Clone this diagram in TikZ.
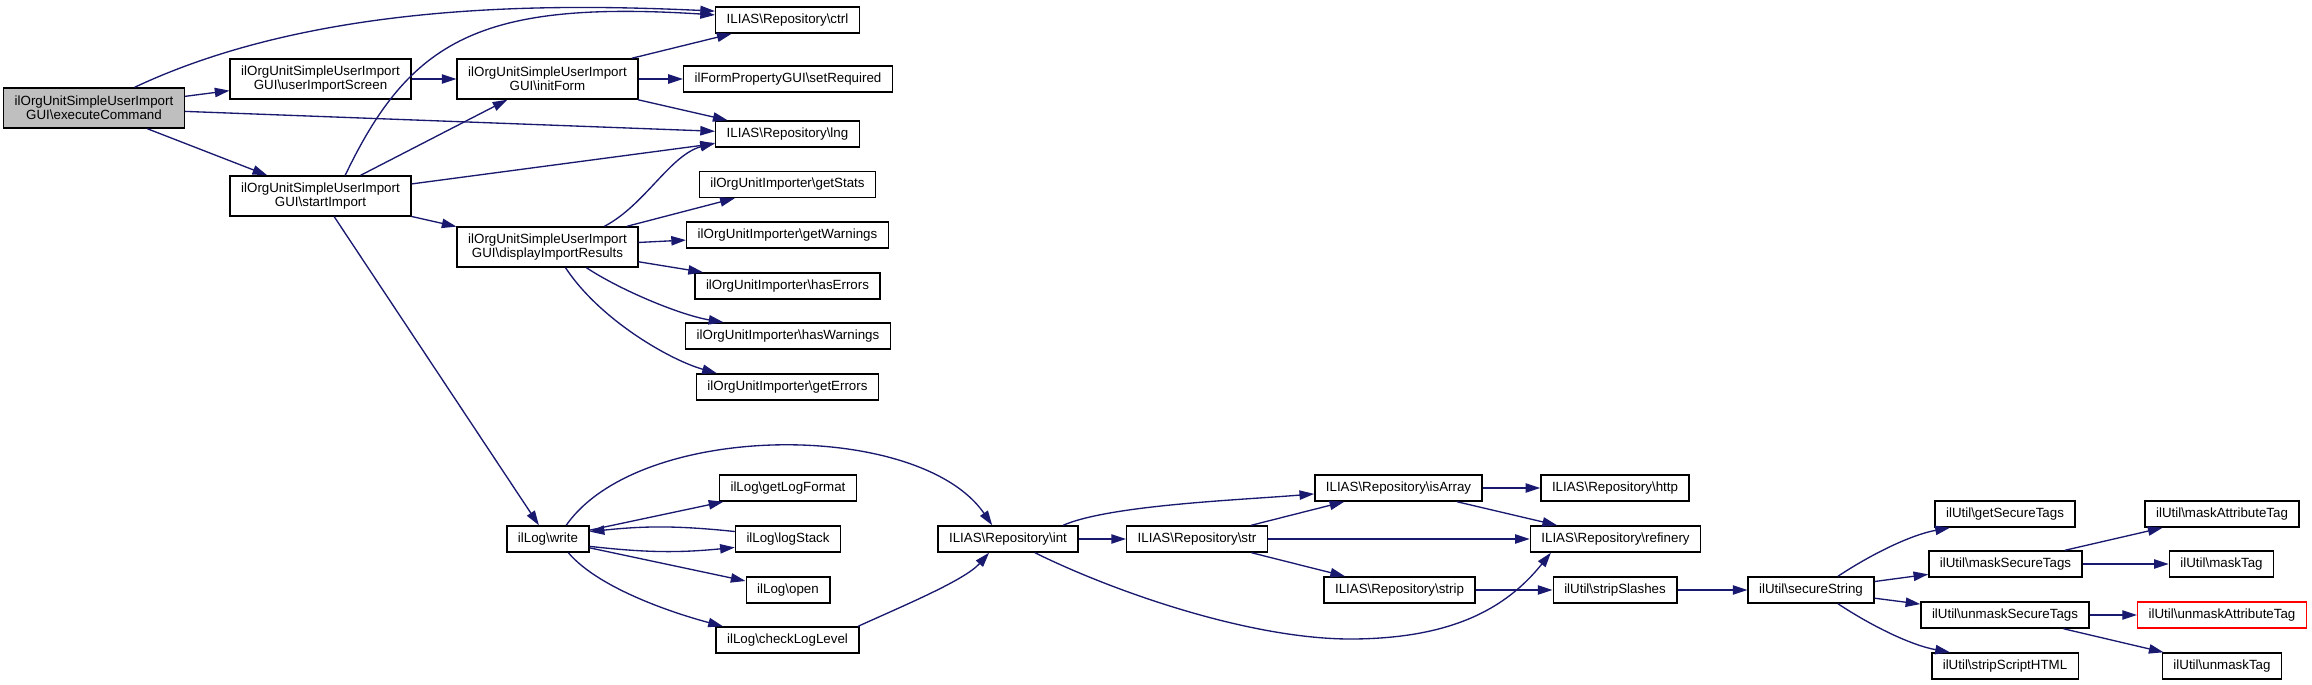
\documentclass[tikz,border=0pt]{standalone}
\usepackage{fontspec}
\setmainfont{Liberation Sans}
\usepackage{xcolor}
\usepackage{tikz}
\usetikzlibrary{arrows.meta}
\definecolor{edgeblue}{RGB}{25,25,112}
\newcommand{\bsl}{\textbackslash}

\begin{document}
\begin{tikzpicture}[x=0.75pt, y=0.75pt,
  fn/.style={draw=black, line width=1.1pt, fill=white, font=\fontsize{10}{10.7}\selectfont,
    inner xsep=8.25pt, inner ysep=1pt, minimum height=19.5pt},
  fn2/.style={fn, align=center, minimum height=30pt},
  call/.style={edgeblue, line width=1pt, -{Triangle[length=11pt,width=7pt]}}]
  \fill[white] (0,0) rectangle (2312,-685);
  \useasboundingbox (0,0) rectangle (2312,-685);
  % GUI methods
  \node[fn2, fill=black!25] (exec) at (94,-108) {ilOrgUnitSimpleUserImport\\GUI\bsl executeCommand};
  \node[fn2] (uis) at (320.5,-79) {ilOrgUnitSimpleUserImport\\GUI\bsl userImportScreen};
  \node[fn2] (start) at (320.5,-196) {ilOrgUnitSimpleUserImport\\GUI\bsl startImport};
  \node[fn2] (form) at (547.5,-79) {ilOrgUnitSimpleUserImport\\GUI\bsl initForm};
  \node[fn2] (results) at (547.5,-247) {ilOrgUnitSimpleUserImport\\GUI\bsl displayImportResults};
  % Third column
  \node[fn] (ctrl) at (787.5,-20) {ILIAS\bsl Repository\bsl ctrl};
  \node[fn] (setreq) at (788,-79) {ilFormPropertyGUI\bsl setRequired};
  \node[fn] (lng) at (787.5,-134) {ILIAS\bsl Repository\bsl lng};
  \node[fn] (stats) at (787.5,-184.5) {ilOrgUnitImporter\bsl getStats};
  \node[fn] (getwarn) at (787.5,-235) {ilOrgUnitImporter\bsl getWarnings};
  \node[fn] (haserr) at (787.5,-286) {ilOrgUnitImporter\bsl hasErrors};
  \node[fn] (haswarn) at (788,-336) {ilOrgUnitImporter\bsl hasWarnings};
  \node[fn] (geterr) at (787.5,-387) {ilOrgUnitImporter\bsl getErrors};
  % Logger
  \node[fn] (write) at (548,-539) {ilLog\bsl write};
  \node[fn] (format) at (788,-488) {ilLog\bsl getLogFormat};
  \node[fn] (stack) at (788,-539) {ilLog\bsl logStack};
  \node[fn] (open) at (788,-590) {ilLog\bsl open};
  \node[fn] (level) at (787.5,-640) {ilLog\bsl checkLogLevel};
  % Repository
  \node[fn] (int) at (1008,-539) {ILIAS\bsl Repository\bsl int};
  \node[fn] (str) at (1197,-539) {ILIAS\bsl Repository\bsl str};
  \node[fn] (isarray) at (1398.5,-488) {ILIAS\bsl Repository\bsl isArray};
  \node[fn] (strip) at (1399.5,-590) {ILIAS\bsl Repository\bsl strip};
  \node[fn] (http) at (1615,-488) {ILIAS\bsl Repository\bsl http};
  \node[fn] (refinery) at (1615.5,-539) {ILIAS\bsl Repository\bsl refinery};
  % ilUtil
  \node[fn] (slashes) at (1615,-590) {ilUtil\bsl stripSlashes};
  \node[fn] (secure) at (1811,-590) {ilUtil\bsl secureString};
  \node[fn] (gettags) at (2005,-514) {ilUtil\bsl getSecureTags};
  \node[fn] (masktags) at (2005.5,-564) {ilUtil\bsl maskSecureTags};
  \node[fn] (unmasktags) at (2005,-615) {ilUtil\bsl unmaskSecureTags};
  \node[fn] (scripthtml) at (2005,-666) {ilUtil\bsl stripScriptHTML};
  \node[fn] (maskattr) at (2222,-514) {ilUtil\bsl maskAttributeTag};
  \node[fn] (masktag) at (2221.5,-564) {ilUtil\bsl maskTag};
  \node[fn, draw=red] (unmaskattr) at (2222,-615) {ilUtil\bsl unmaskAttributeTag};
  \node[fn] (unmasktag) at (2222,-666) {ilUtil\bsl unmaskTag};
  % Calls from executeCommand
  \draw[call] (exec.27) .. controls (320,0) and (560,-4) .. (ctrl.173);
  \draw[call] (exec) -- (uis);
  \draw[call] (exec) -- (lng);
  \draw[call] (exec) -- (start);
  \draw[call] (uis) -- (form);
  % Calls from initForm
  \draw[call] (form) -- (ctrl);
  \draw[call] (form) -- (setreq);
  \draw[call] (form) -- (lng);
  % Calls from startImport
  \draw[call] (start.40) .. controls (410,-40) and (480,0) .. (ctrl.176);
  \draw[call] (start) -- (form);
  \draw[call] (start) -- (lng);
  \draw[call] (start) -- (results);
  \draw[call] (start) -- (write);
  % Calls from displayImportResults
  \draw[call] (results.20) .. controls (645,-205) and (670,-155) .. (lng.187);
  \draw[call] (results) -- (stats);
  \draw[call] (results) -- (getwarn);
  \draw[call] (results) -- (haserr);
  \draw[call] (results.-28) .. controls (620,-290) and (680,-315) .. (haswarn.168);
  \draw[call] (results.-49) .. controls (600,-320) and (670,-360) .. (geterr.169);
  % Calls from ilLog
  \draw[call] (write) -- (format);
  \draw[call] (stack.172) to[bend right=6] (write.10);
  \draw[call] (write.-10) to[bend right=6] (stack.189);
  \draw[call] (write) -- (open);
  \draw[call] (write.-34) .. controls (600,-590) and (680,-615) .. (level.168);
  \draw[call] (write.37) .. controls (640,-420) and (920,-420) .. (int.139);
  \draw[call] (level.11) .. controls (905,-605) and (965,-580) .. (int.216);
  % Calls from the repository
  \draw[call] (int) -- (str);
  \draw[call] (int.14) .. controls (1110,-505) and (1240,-500) .. (isarray.184);
  \draw[call] (int.-27) .. controls (1110,-590) and (1250,-640) .. (1354,-639)
    .. controls (1450,-638) and (1505,-610) .. (refinery.192);
  \draw[call] (str) -- (isarray);
  \draw[call] (str) -- (refinery);
  \draw[call] (str) -- (strip);
  \draw[call] (isarray) -- (http);
  \draw[call] (isarray) -- (refinery);
  \draw[call] (strip) -- (slashes);
  \draw[call] (slashes) -- (secure);
  % Calls from ilUtil
  \draw[call] (secure.27) .. controls (1870,-555) and (1910,-535) .. (gettags.194);
  \draw[call] (secure) -- (masktags);
  \draw[call] (secure) -- (unmasktags);
  \draw[call] (secure.-27) .. controls (1870,-625) and (1910,-645) .. (scripthtml.166);
  \draw[call] (masktags) -- (maskattr);
  \draw[call] (masktags) -- (masktag);
  \draw[call] (unmasktags) -- (unmaskattr);
  \draw[call] (unmasktags) -- (unmasktag);
\end{tikzpicture}
\end{document}
